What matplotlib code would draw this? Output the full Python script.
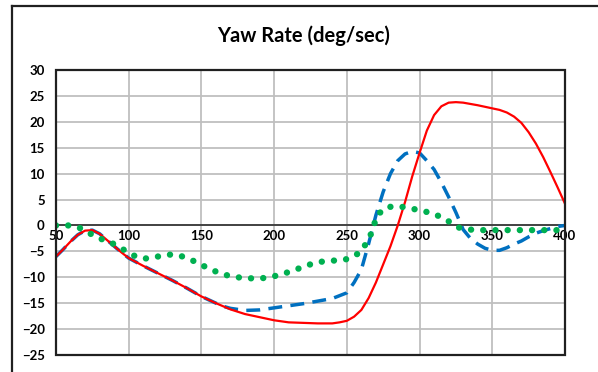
import matplotlib
matplotlib.use('AGG')
import matplotlib.pyplot as plt
from matplotlib.lines import Line2D

# series
red_x = [50, 55, 60, 65, 70, 75, 80, 85, 90, 95, 100, 110, 120, 130, 140, 150, 160, 170, 180, 190,
         200, 210, 220, 230, 240, 245, 250, 255, 260, 265, 270, 275, 280, 285, 290, 295, 300, 305,
         310, 315, 320, 325, 330, 340, 350, 355, 360, 365, 370, 375, 380, 385, 390, 395, 400]
red_y = [-6.0, -4.6, -3.1, -1.8, -1.0, -0.9, -1.6, -2.8, -4.0, -5.2, -6.3, -7.8, -9.2, -10.6, -12.1, -13.7, -15.0, -16.2, -17.1, -17.7,
         -18.3, -18.7, -18.8, -18.9, -18.9, -18.7, -18.4, -17.6, -16.3, -14.0, -11.0, -7.5, -4.0, 0.0, 4.5, 9.5, 14.0, 18.3,
         21.3, 23.0, 23.7, 23.8, 23.7, 23.2, 22.6, 22.3, 21.8, 21.0, 19.8, 18.0, 15.8, 13.2, 10.3, 7.3, 4.2]

blue_x = [50, 55, 60, 65, 70, 75, 80, 85, 90, 95, 100, 110, 120, 130, 140, 150, 160, 165, 170, 180,
          190, 200, 210, 220, 230, 240, 250, 255, 260, 265, 270, 275, 280, 285, 290, 295, 300, 305,
          310, 315, 320, 325, 330, 335, 340, 345, 350, 355, 360, 365, 370, 375, 380, 385, 390, 395, 400]
blue_y = [-6.0, -4.6, -3.1, -1.8, -1.0, -0.9, -1.6, -2.8, -4.0, -5.2, -6.3, -7.8, -9.2, -10.6, -12.1, -13.7, -15.0, -15.6, -16.0, -16.4,
          -16.3, -15.9, -15.5, -15.1, -14.6, -14.1, -13.0, -11.0, -8.5, -3.5, 2.0, 6.5, 10.0, 12.5, 13.8, 14.3, 14.0, 12.5,
          10.8, 8.3, 5.5, 2.5, -0.8, -2.5, -3.6, -4.4, -4.8, -4.8, -4.3, -3.6, -3.0, -2.2, -1.5, -1.0, -0.6, -0.2, 0.0]

green_x = [50, 55, 60, 65, 70, 75, 80, 85, 90, 95, 100, 105, 110, 115, 120, 125, 130, 135, 140, 145,
           150, 155, 160, 165, 170, 175, 180, 185, 190, 195, 200, 205, 210, 215, 220, 225, 230, 235,
           240, 245, 250, 255, 260, 265, 268, 270, 275, 280, 285, 290, 295, 300, 305, 310, 315, 320,
           325, 330, 335, 340, 350, 360, 370, 380, 390, 400]
green_y = [0.0, 0.0, 0.0, -0.3, -1.0, -1.8, -2.5, -3.0, -3.6, -4.4, -5.3, -6.0, -6.4, -6.3, -6.0, -5.7, -5.6, -5.8, -6.3, -6.9,
           -7.6, -8.3, -8.9, -9.4, -9.8, -10.0, -10.2, -10.2, -10.2, -10.1, -9.8, -9.4, -9.0, -8.5, -8.0, -7.5, -7.1, -6.9,
           -6.8, -6.7, -6.5, -5.9, -5.0, -2.6, -0.8, 1.5, 3.2, 3.6, 3.7, 3.5, 3.2, 3.0, 2.6, 2.2, 1.6, 0.8,
           -0.2, -0.7, -0.8, -0.9, -0.9, -0.9, -0.9, -0.9, -0.9, -0.9]

x_ticks = [50, 100, 150, 200, 250, 300, 350, 400]
y_ticks = [-25, -20, -15, -10, -5, 0, 5, 10, 15, 20, 25, 30]


def main():
    plt.rcParams['font.family'] = ['Lato', 'DejaVu Sans']
    fig = plt.figure(figsize=(5.98, 3.72), dpi=100)
    ax = fig.add_axes([0.0936, 0.0457, 0.8512, 0.7661])

    ax.plot(blue_x, blue_y, color='#0070C0', lw=2.5, linestyle=(0, (4.0, 2.4)), zorder=3)
    ax.plot(red_x, red_y, color='#FF0000', lw=1.6, zorder=4)
    ax.plot(green_x, green_y, color='#00B050', lw=4.6, linestyle=(0, (0.01, 1.9)),
            dash_capstyle='round', zorder=5)

    ax.set_xlim(50, 400)
    ax.set_ylim(-25, 30)
    ax.set_xticks(x_ticks)
    ax.set_yticks(y_ticks)
    ax.grid(True, color='#BFBFBF', lw=1.3, zorder=0)
    ax.set_axisbelow(True)

    # x axis sits on the zero line, frame drawn separately
    ax.spines['bottom'].set_position(('data', 0))
    ax.spines['bottom'].set_linewidth(1.1)
    ax.spines['bottom'].set_color('#202020')
    for side in ['top', 'left', 'right']:
        ax.spines[side].set_visible(False)
    ax.add_patch(plt.Rectangle((0, 0), 1, 1, transform=ax.transAxes, fill=False,
                               lw=1.6, edgecolor='#202020', zorder=6, clip_on=False))

    ax.tick_params(axis='both', length=0, labelsize=9.5)
    ax.tick_params(axis='x', pad=3)
    ax.tick_params(axis='y', pad=8)
    for lab in ax.get_xticklabels() + ax.get_yticklabels():
        lab.set_fontweight('bold')

    fig.text(0.508, 0.905, 'Yaw Rate (deg/sec)', ha='center', va='center',
             fontsize=14.5, fontweight='bold')

    # partial outer border (top and left only visible)
    fig.add_artist(Line2D([12 / 598, 1.0], [1 - 6 / 372, 1 - 6 / 372], transform=fig.transFigure,
                          color='#202020', lw=1.6))
    fig.add_artist(Line2D([12 / 598, 12 / 598], [1 - 6 / 372, 0.0], transform=fig.transFigure,
                          color='#202020', lw=1.6))

    fig.savefig('out.png', dpi=100)


if "__main__" in __name__:
    main()
